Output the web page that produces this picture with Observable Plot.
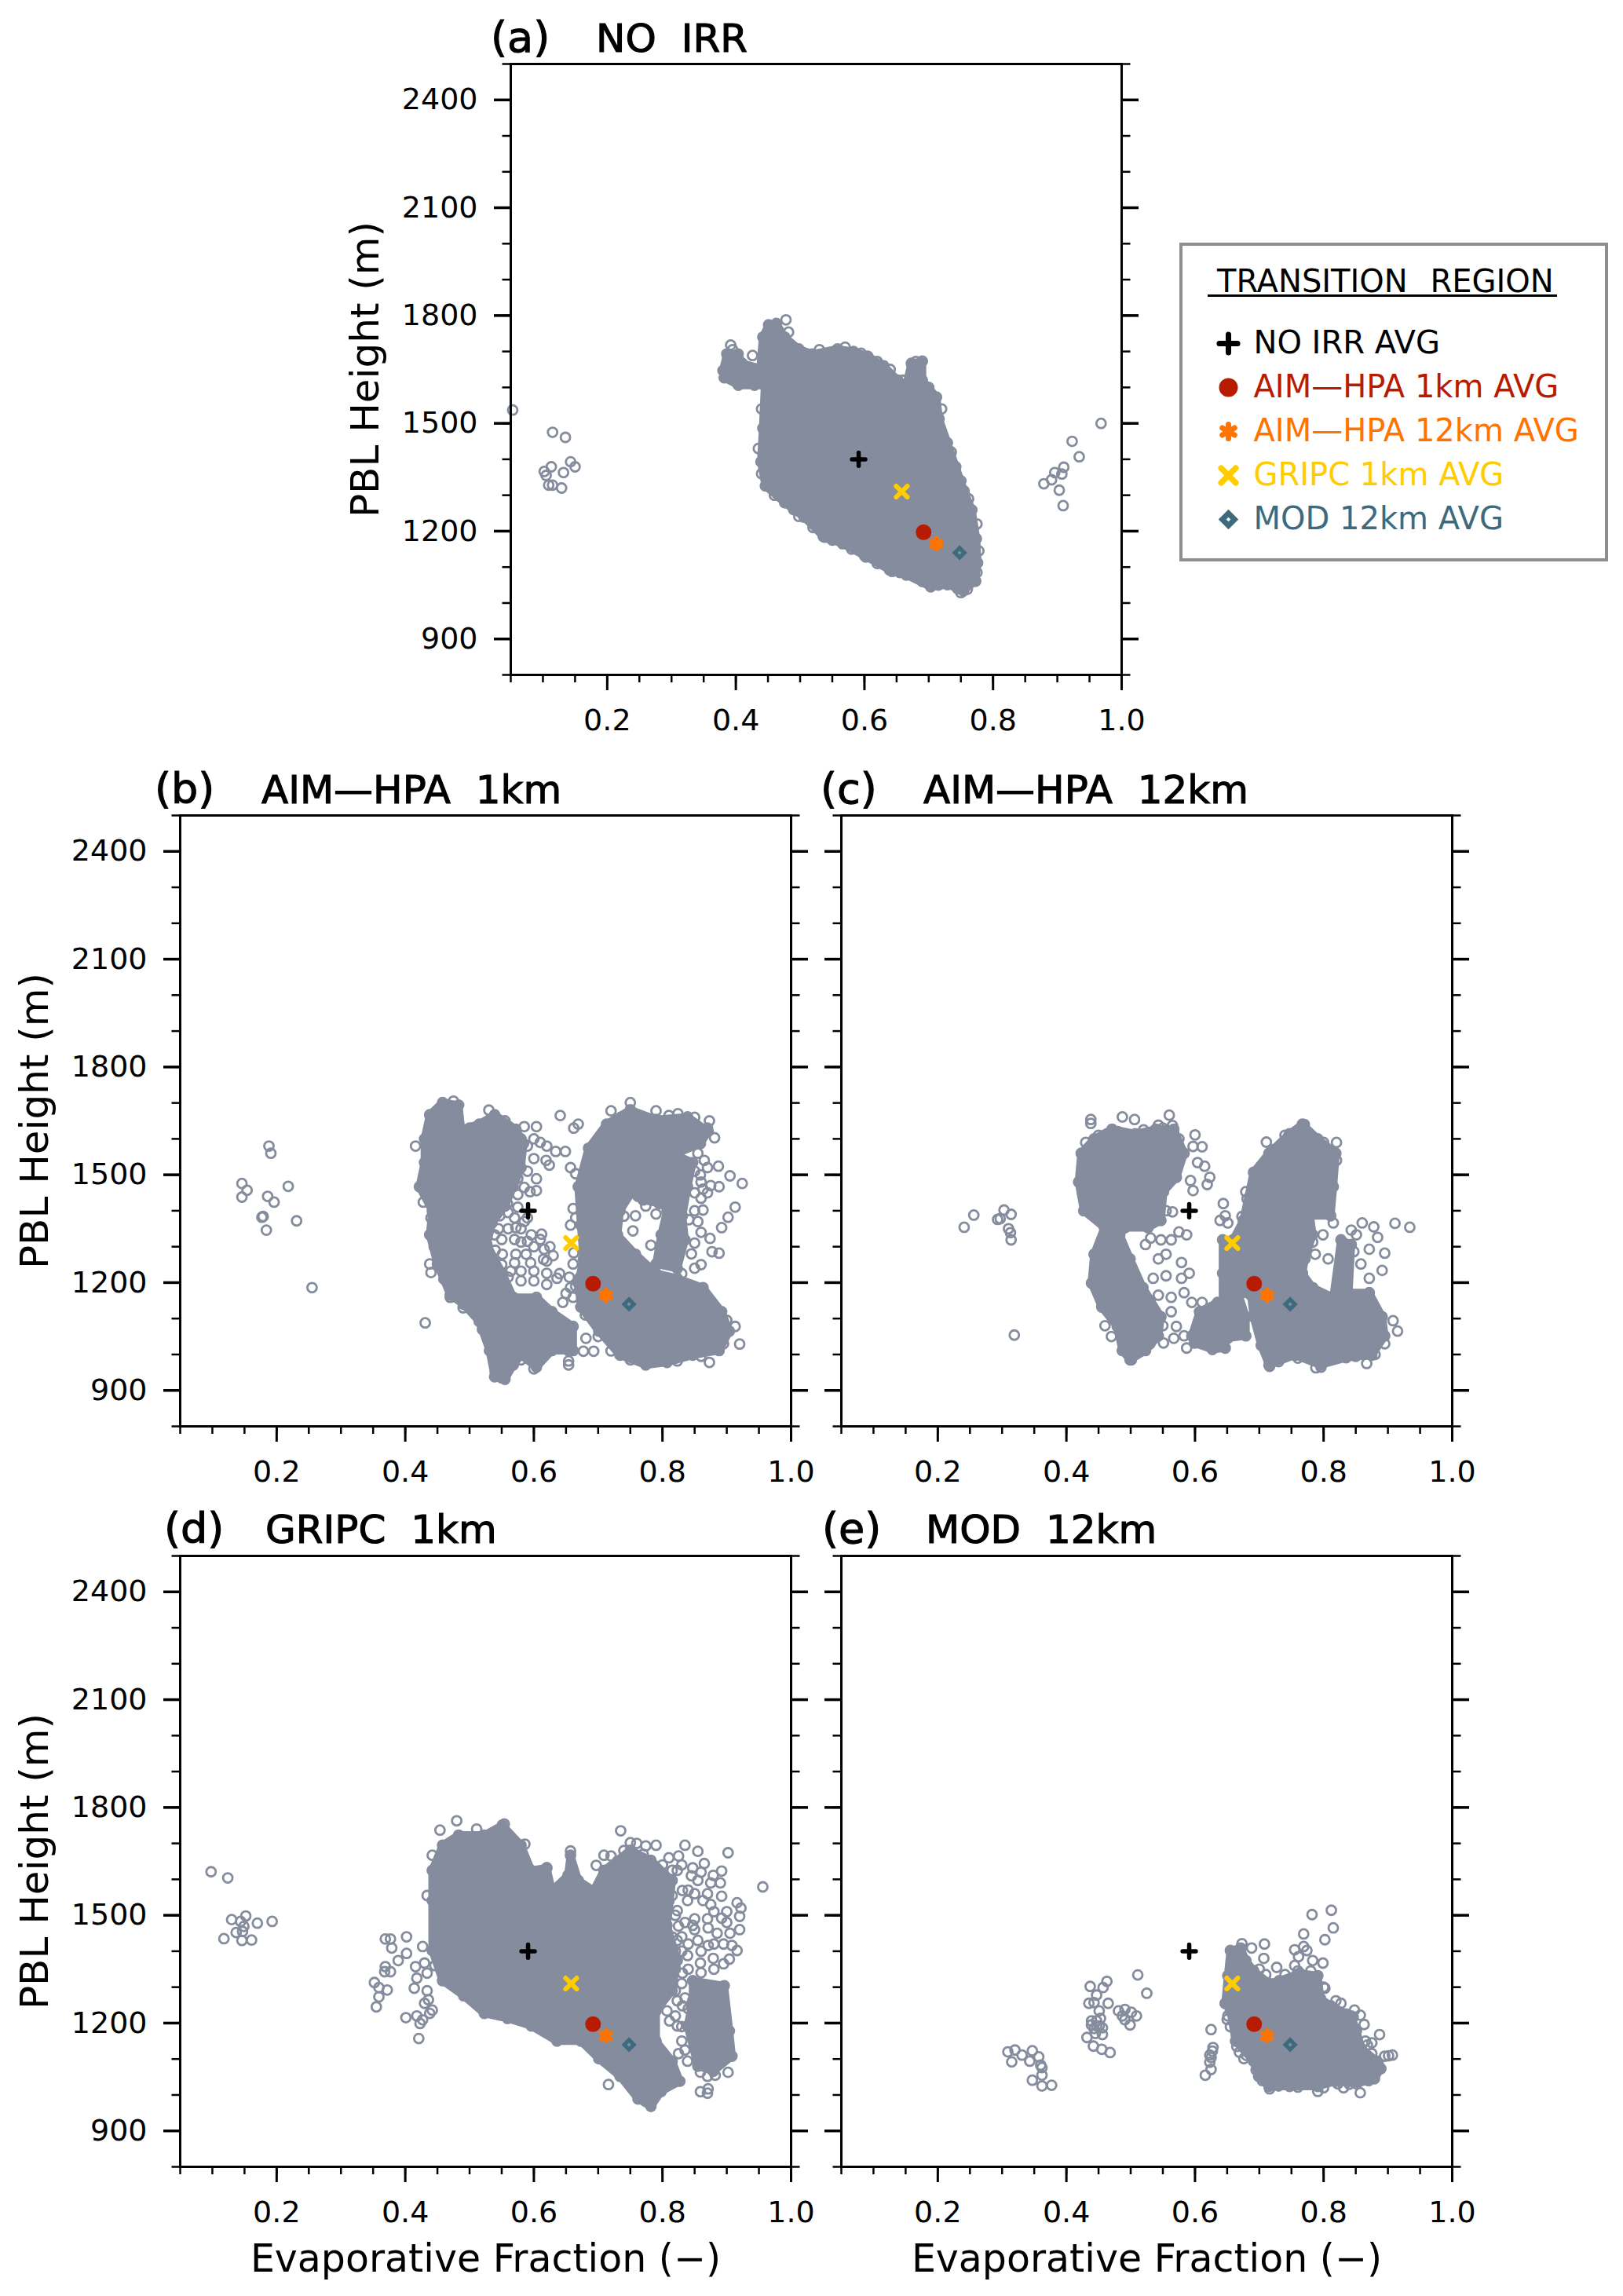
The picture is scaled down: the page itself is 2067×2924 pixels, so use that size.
<!DOCTYPE html>
<html><head><meta charset="utf-8">
<script src="https://cdn.jsdelivr.net/npm/d3@7"></script>
<script src="https://cdn.jsdelivr.net/npm/@observablehq/plot@0.6"></script>
<style>
html,body{margin:0;padding:0;background:#fff}
#page{position:relative;width:2067px;height:2924px;background:#fff;font-family:"DejaVu Sans",sans-serif;overflow:hidden}
.ttl{position:absolute;font-size:50px;line-height:1;white-space:nowrap;color:#000;-webkit-text-stroke:1.1px #000;word-spacing:16px}
.tag{font-size:54px;margin-top:-3px}
.lg{position:absolute;left:1502px;top:309px;width:546px;height:406px;box-sizing:border-box;border:4px solid #8e8e8e}
.lgt{position:absolute;left:1550px;top:338px;font-size:40px;line-height:1;word-spacing:16px;color:#000;white-space:nowrap}
.lgu{position:absolute;left:1538px;top:375px;width:445px;height:3px;background:#000}
</style></head><body><div id="page"></div>
<script>
const GRAY="#848c9d";
const xMajor=[0.2,0.4,0.6,0.8,1.0];
const xMinor=d3.range(1,21).map(i=>i*0.05);
const yMajor=[900,1200,1500,1800,2100,2400];
const yMinor=d3.range(8,26).map(i=>i*100);

// Averages, same in every panel
const avgLabels=["NO IRR AVG","AIM—HPA 1km AVG","AIM—HPA 12km AVG","GRIPC 1km AVG","MOD 12km AVG"];
const avgX=[0.591,0.692,0.712,0.658,0.748];
const avgY=[1400,1197,1165,1310,1140];
const avgColor=["#000000","#b71c02","#ff7300","#ffcc00","#3e6a7e"];
const avgSymbol=["plus","circle","asterisk","times","diamond2"];

// (a) NO IRR
const aBlobs=[[[.380,1647],[.386,1693],[.4035,1693],[.410,1667],[.438,1653],[.442,1740],[.451,1774],[.463,1778],[.476,1740],[.498,1707],[.519,1693],[.558,1707],[.583,1700],[.605,1687],[.630,1660],[.652,1620],[.665,1606],[.673,1667],[.690,1673],[.690,1620],[.712,1573],[.716,1513],[.729,1446],[.742,1379],[.755,1312],[.767,1259],[.774,1179],[.776,1112],[.772,1061],[.754,1034],[.729,1051],[.703,1045],[.665,1078],[.639,1092],[.600,1132],[.566,1165],[.536,1185],[.506,1239],[.476,1279],[.446,1326],[.439,1393],[.442,1486],[.445,1606],[.429,1606],[.404,1606],[.382,1627]]];
const aDots=[[.053,1537],[.115,1475],[.135,1461],[.143,1393],[.150,1379],[.113,1379],[.132,1363],[.102,1366],[.105,1355],[.109,1328],[.115,1328],[.129,1320],[.968,1500],[.923,1450],[.934,1407],[.910,1378],[.896,1363],[.907,1359],[.891,1343],[.879,1332],[.903,1314],[.909,1271],[.478,1788],[.482,1754],[.426,1689],[.392,1718],[.750,1029],[.760,1038],[.773,1061],[.602,1128],[.539,1183],[.498,1241],[.643,1088],
[.395,1705],[.415,1640],[.425,1650],[.445,1720],[.48,1715],[.53,1705],[.57,1712],[.595,1695],[.62,1672],[.64,1650],[.66,1620],[.68,1672],[.70,1600],[.72,1540],[.735,1420],[.75,1340],[.762,1290],[.775,1220],[.778,1145],[.775,1085],[.745,1040],[.715,1050],[.69,1060],[.655,1085],[.62,1110],[.58,1150],[.55,1175],[.52,1210],[.49,1260],[.46,1300],[.44,1360],[.435,1430],[.44,1540]];

// (b) AIM-HPA 1km
const bBlobs=[
[[.430,1600],[.438,1667],[.458,1701],[.483,1694],[.487,1627],[.515,1641],[.539,1667],[.572,1627],[.584,1587],[.580,1520],[.568,1467],[.555,1413],[.535,1366],[.527,1306],[.551,1226],[.568,1159],[.604,1159],[.628,1119],[.661,1078],[.661,1011],[.628,1011],[.604,965],[.580,998],[.568,971],[.555,931],[.539,938],[.531,1011],[.515,1092],[.491,1139],[.470,1165],[.450,1252],[.438,1333],[.442,1400],[.422,1467],[.430,1534]],
[[.669,1467],[.685,1574],[.713,1641],[.750,1681],[.790,1654],[.839,1661],[.871,1621],[.859,1587],[.823,1560],[.774,1560],[.750,1520],[.758,1467],[.734,1400],[.730,1333],[.758,1279],[.790,1226],[.823,1212],[.863,1186],[.892,1119],[.904,1065],[.888,1011],[.847,998],[.807,978],[.774,971],[.734,998],[.701,1065],[.673,1132],[.669,1199],[.677,1266],[.673,1360]],
[[.815,1560],[.847,1534],[.839,1467],[.831,1386],[.835,1319],[.823,1239],[.790,1252],[.798,1333],[.807,1400],[.794,1467]],
[[.745,1560],[.82,1560],[.815,1440],[.795,1420],[.77,1430],[.755,1450]]];
const bDots=[[.188,1580],[.191,1560],[.146,1476],[.154,1457],[.146,1438],[.186,1440],[.196,1424],[.218,1468],[.179,1384],[.177,1382],[.184,1346],[.231,1372],[.255,1186],[.431,1088],[.641,1665],[.416,1580],[.428,1424],[.438,1252],[.440,1228],[.470,1159],[.604,1634],[.585,1634],[.662,1630],[.669,1641],[.634,1565],[.649,1565],[.619,1540],[.624,1527],[.657,1520],[.665,1503],[.604,1489],[.594,1453],[.604,1456],[.661,1406],[.665,1380],[.657,1360],[.662,1283],[.661,1252],[.612,1335],[.596,1333],[.580,1313],[.572,1353],[.547,1386],[.559,1420],[.539,1333],[.551,1279],[.572,1279],[.588,1279],[.616,1293],[.600,1232],[.580,1232],[.564,1232],[.620,1226],[.636,1212],[.657,1186],[.661,1159],[.654,971],[.654,982],[.654,1011],[.677,1009],[.693,1009],[.681,1045],[.924,1476],[.905,1497],[.887,1524],[.888,1467],[.913,1410],[.902,1382],[.892,1353],[.874,1323],[.877,1286],[.888,1282],[.913,1078],[.920,1029],[.873,978],[.823,982],[.750,1701],[.720,1678],[.790,1678],[.824,1670],[.873,1650],[.881,1603],[.863,1402],[.863,1460],[.841,1375],[.859,1500],[.762,1440],[.774,1413],[.754,1344],[.782,1304],[.802,1331],[.758,1386],[.790,1391],[.770,1505],[.786,1478],[.807,1505],
[.74,1385],[.855,1560],[.865,1540],[.87,1520],[.85,1510],[.86,1480],[.875,1470],[.85,1450],[.86,1435],[.87,1450],[.85,1400],[.855,1370],[.86,1340],[.85,1310],[.845,1280],[.86,1250],[.85,1240],[.83,1225],
[.53,1400],[.545,1410],[.56,1395],[.57,1380],[.585,1370],[.58,1350],[.56,1350],[.545,1350],[.53,1350],[.55,1320],[.57,1320],[.59,1315],[.60,1300],[.61,1320],[.625,1300],[.63,1275],[.615,1265],[.595,1255],[.57,1255],[.55,1250],[.54,1290],[.545,1235],[.56,1215],[.58,1205],[.60,1205],[.62,1195],[.64,1225],[.655,1215],[.65,1170],[.645,1145],[.665,1190],[.672,1215],[.62,1260],[.59,1380],[.575,1410],[.555,1440],[.575,1445],[.585,1465],[.575,1490],[.59,1510],[.60,1545],[.61,1590],[.62,1580],[.60,1600],[.59,1580],
[.44,1640],[.465,1695],[.475,1705],[.50,1630],[.53,1680],[.555,1650],[.58,1600],[.43,1470],[.44,1380],[.445,1300],[.46,1210],[.49,1130],[.52,1070],[.54,950],[.55,935],[.58,985],[.60,960],[.72,1640],[.735,1660],[.76,1660],[.81,1665],[.85,1660],[.87,1630],[.90,1095],[.895,1030],[.86,995],[.82,990],[.78,985],[.75,985],[.72,1010],[.70,1050],[.68,1110]];

// (c) AIM-HPA 12km
const cBlobs=[
[[.419,1480],[.423,1560],[.443,1600],[.471,1627],[.507,1614],[.539,1627],[.567,1627],[.583,1560],[.571,1493],[.551,1453],[.547,1373],[.527,1353],[.491,1353],[.483,1333],[.499,1266],[.519,1186],[.547,1105],[.543,1052],[.523,1011],[.499,985],[.487,1011],[.479,1078],[.455,1132],[.439,1199],[.443,1279],[.459,1353],[.427,1400]],
[[.595,1052],[.607,1119],[.635,1145],[.647,1078],[.647,1018],[.627,1014],[.599,1032]],
[[.643,1319],[.659,1319],[.675,1373],[.691,1507],[.715,1560],[.747,1614],[.767,1641],[.791,1600],[.819,1560],[.815,1467],[.811,1386],[.779,1386],[.783,1333],[.771,1266],[.767,1226],[.783,1186],[.815,1159],[.827,1319],[.843,1306],[.839,1172],[.871,1172],[.891,1105],[.895,1052],[.875,998],[.835,991],[.795,971],[.755,998],[.715,971],[.703,1025],[.691,1105],[.687,1165],[.667,1172],[.679,1105],[.679,1052],[.651,1045],[.643,1145],[.643,1226]]];
const cDots=[[.241,1354],[.256,1388],[.293,1376],[.297,1378],[.303,1402],[.314,1390],[.310,1350],[.313,1339],[.314,1319],[.319,1054],[.438,1654],[.438,1643],[.487,1661],[.506,1654],[.560,1666],[.543,1638],[.565,1637],[.600,1611],[.597,1579],[.611,1578],[.604,1534],[.615,1524],[.623,1493],[.619,1473],[.593,1484],[.597,1456],[.565,1397],[.555,1400],[.644,1420],[.647,1386],[.639,1373],[.651,1366],[.673,1384],[.679,1453],[.681,1433],[.587,1333],[.575,1341],[.531,1324],[.523,1306],[.547,1319],[.563,1319],[.555,1279],[.543,1266],[.579,1256],[.535,1212],[.555,1219],[.543,1165],[.563,1159],[.563,1119],[.571,1078],[.567,1045],[.583,1052],[.587,1018],[.579,1212],[.591,1226],[.583,1172],[.595,1145],[.611,1145],[.551,1032],[.911,1365],[.934,1354],[.878,1355],[.884,1326],[.895,1282],[.891,1234],[.908,1094],[.915,1065],[.895,1030],[.867,975],[.796,965],[.788,963],[.716,967],[.501,985],[.820,1590],[.711,1591],[.745,1607],[.851,1333],[.843,1346],[.860,1366],[.871,1293],[.847,1286],[.858,1252],[.871,1212],[.807,1266],[.799,1333],[.815,1366],[.783,1313],[.787,1279],
[.43,1590],[.45,1610],[.48,1620],[.52,1625],[.55,1630],[.575,1600],[.425,1450],[.46,1080],[.47,1050],[.50,990],[.53,1030],[.55,1080],[.53,1150],[.72,1570],[.74,1610],[.77,1640],[.80,1590],[.82,1540],[.89,1060],[.88,1000],[.85,995],[.81,985],[.76,990],[.73,980]];

// (d) GRIPC 1km
const dBlobs=[
[[.442,1541],[.442,1625],[.458,1695],[.483,1723],[.523,1723],[.551,1751],[.580,1695],[.596,1625],[.620,1632],[.628,1569],[.653,1611],[.657,1667],[.669,1597],[.693,1569],[.709,1625],[.750,1681],[.782,1653],[.815,1597],[.807,1472],[.823,1374],[.815,1290],[.790,1234],[.790,1150],[.815,1094],[.827,1038],[.798,1010],[.782,968],[.762,989],[.734,1052],[.701,1101],[.673,1150],[.636,1150],[.596,1192],[.559,1213],[.523,1227],[.491,1276],[.458,1318],[.442,1402]],
[[.847,1318],[.896,1304],[.904,1178],[.908,1108],[.879,1066],[.855,1080],[.839,1192],[.847,1262]]];
const dDots=[[.098,1621],[.124,1604],[.130,1488],[.152,1498],[.144,1483],[.149,1469],[.137,1452],[.118,1435],[.146,1430],[.161,1431],[.170,1478],[.193,1483],[.147,1455],[.369,1434],[.377,1434],[.379,1409],[.402,1440],[.389,1374],[.402,1394],[.369,1357],[.368,1343],[.377,1343],[.372,1292],[.352,1313],[.359,1299],[.359,1273],[.355,1245],[.416,1357],[.418,1325],[.414,1297],[.436,1265],[.430,1255],[.442,1236],[.438,1227],[.418,1220],[.401,1215],[.427,1209],[.423,1199],[.421,1157],[.427,1413],[.430,1367],[.434,1339],[.434,1290],[.446,1360],[.956,1579],[.902,1674],[.892,1623],[.879,1611],[.835,1695],[.790,1695],[.735,1735],[.855,1678],[.865,1644],[.855,1597],[.892,1553],[.875,1530],[.916,1535],[.922,1520],[.920,1497],[.920,1460],[.892,1492],[.871,1465],[.855,1430],[.823,1513],[.839,1541],[.815,1555],[.908,1416],[.916,1402],[.904,1378],[.879,1380],[.859,1367],[.839,1388],[.831,1339],[.823,1430],[.863,1541],[.790,1632],[.823,1625],[.847,1632],[.807,1590],[.831,1569],[.847,1472],[.871,1416],[.859,1063],[.870,1052],[.882,1055],[.902,1063],[.859,1009],[.870,1005],[.871,1017],[.716,1029],[.839,1094],[.823,1192],[.811,1206],[.823,1262],[.807,1234],[.831,1248],[.480,1763],[.554,1754],[.511,1740],[.454,1737],[.586,1698],[.620,1632],[.657,1679],[.697,1639],[.709,1667],[.750,1702],[.774,1693],[.434,1555],[.442,1667],
[.83,1640],[.845,1610],[.86,1620],[.875,1590],[.89,1590],[.84,1570],[.85,1560],[.87,1560],[.88,1510],[.90,1510],[.90,1480],[.905,1450],[.885,1450],[.87,1490],[.85,1490],[.835,1480],[.825,1470],[.85,1460],[.88,1420],[.895,1420],[.86,1400],[.84,1420],[.83,1400],[.82,1350],[.84,1350],[.86,1340],[.88,1350],[.895,1365],[.83,1310],[.82,1290],[.835,1270],[.80,1640],[.81,1660],[.825,1665],[.77,1670],[.74,1680],[.72,1665],[.73,1650],[.76,1700],[.795,1610],[.815,1625],[.83,1190],[.83,1150],[.835,1125],[.825,1115],[.82,1220],[.84,1240],[.81,1540],[.82,1500],[.815,1440],[.83,1440],[.82,1400],[.81,1330]];

// (e) MOD 12km
const eBlobs=[[[.655,1402],[.671,1409],[.679,1374],[.691,1346],[.715,1311],[.731,1318],[.763,1339],[.791,1332],[.795,1269],[.811,1248],[.843,1220],[.851,1178],[.859,1129],[.883,1094],[.889,1073],[.879,1045],[.851,1031],[.819,1038],[.791,1024],[.747,1024],[.715,1024],[.699,1052],[.691,1094],[.663,1150],[.655,1234],[.647,1255],[.651,1332]]];
const eDots=[[.309,1120],[.320,1125],[.315,1092],[.331,1111],[.343,1094],[.347,1123],[.357,1106],[.360,1083],[.362,1076],[.362,1055],[.347,1041],[.362,1025],[.377,1027],[.437,1302],[.463,1316],[.457,1299],[.447,1278],[.443,1257],[.435,1255],[.465,1255],[.451,1234],[.439,1195],[.447,1206],[.451,1192],[.443,1185],[.453,1213],[.439,1206],[.447,1192],[.456,1187],[.456,1168],[.445,1171],[.432,1160],[.442,1136],[.455,1127],[.468,1118],[.481,1234],[.491,1238],[.501,1230],[.487,1220],[.491,1209],[.509,1220],[.499,1195],[.511,1334],[.525,1283],[.625,1182],[.628,1132],[.623,1111],[.627,1122],[.625,1104],[.623,1091],[.625,1071],[.616,1055],[.812,1514],[.782,1502],[.815,1465],[.769,1448],[.802,1432],[.708,1420],[.673,1421],[.688,1409],[.769,1413],[.755,1404],[.774,1402],[.761,1385],[.799,1367],[.783,1374],[.727,1355],[.755,1360],[.707,1380],[.802,1297],[.819,1262],[.827,1255],[.848,1236],[.857,1222],[.846,1217],[.863,1196],[.887,1168],[.875,1145],[.868,1139],[.895,1108],[.901,1109],[.907,1111],[.857,1006],[.831,1020],[.791,1010],[.716,1017],[.822,1031],[.647,1255],[.651,1220],[.669,1119],[.676,1101],
[.66,1380],[.665,1395],[.70,1350],[.71,1335],[.74,1335],[.76,1345],[.78,1345],[.80,1300],[.82,1235],[.835,1225],[.865,1150],[.875,1115],[.885,1085],[.87,1040],[.84,1030],[.80,1020],[.76,1022],[.73,1025],[.705,1040],[.695,1070],[.68,1110],[.665,1135],[.655,1190],[.65,1210]];

const panels=[
 {tag:"(a)",name:"NO IRR",blobs:aBlobs,dots:aDots,left:650,top:81,tagX:625,nameX:759,titleY:24,yTitle:true,xTitle:false},
 {tag:"(b)",name:"AIM—HPA 1km",blobs:bBlobs,dots:bDots,left:229,top:1038,tagX:197,nameX:333,titleY:981,yTitle:true,xTitle:false},
 {tag:"(c)",name:"AIM—HPA 12km",blobs:cBlobs,dots:cDots,left:1071,top:1038,tagX:1045,nameX:1176,titleY:981,yTitle:false,xTitle:false},
 {tag:"(d)",name:"GRIPC 1km",blobs:dBlobs,dots:dDots,left:229,top:1981,tagX:209,nameX:338,titleY:1923,yTitle:true,xTitle:true},
 {tag:"(e)",name:"MOD 12km",blobs:eBlobs,dots:eDots,left:1071,top:1981,tagX:1047,nameX:1179,titleY:1923,yTitle:false,xTitle:true}
];

const page=document.getElementById("page");
const SZ=778, ML=225, MR=50, MT=12, MB=150;
const X=d=>d[0], Y=d=>d[1];
const avgRows=avgLabels.map((l,i)=>({l,x:avgX[i],y:avgY[i],c:avgColor[i],s:avgSymbol[i]}));
const panelR={plus:5.5,circle:10,asterisk:6.5,times:6.5,diamond2:5.5};
const legendR={plus:7.5,circle:12,asterisk:8.5,times:8.5,diamond2:7};
const panelW={plus:5.5,circle:0,asterisk:6,times:6,diamond2:5};
const legendW={plus:7,circle:0,asterisk:7,times:7.5,diamond2:7};

function avgMarks(){
 return avgRows.map(r=>Plot.dot([r],{x:"x",y:"y",symbol:()=>r.s,r:panelR[r.s],
    fill:r.s==="circle"?r.c:"none",stroke:r.c,strokeWidth:panelW[r.s],strokeLinecap:"round"}));
}

panels.forEach(p=>{
 const marks=[];
 p.blobs.forEach(b=>{
  marks.push(Plot.line(b,{x:X,y:Y,curve:"linear-closed",fill:GRAY,stroke:GRAY,strokeWidth:10,strokeLinejoin:"round"}));
  marks.push(Plot.dot(b,{x:X,y:Y,r:6,stroke:GRAY,strokeWidth:2.8,fill:"none"}));
 });
 marks.push(Plot.dot(p.dots,{x:X,y:Y,r:6,stroke:GRAY,strokeWidth:2.8,fill:"none"}));
 marks.push(...avgMarks());
 marks.push(Plot.frame({stroke:"#000",strokeWidth:3}));
 marks.push(Plot.axisX({anchor:"bottom",ticks:xMinor,tickSize:10,strokeWidth:2.5,text:null,label:null}));
 marks.push(Plot.axisX({anchor:"bottom",ticks:xMajor,tickSize:20,strokeWidth:3,tickPadding:24,tickFormat:d3.format(".1f"),label:null,fontSize:38}));
 marks.push(Plot.axisY({anchor:"left",ticks:yMinor,tickSize:10.5,strokeWidth:2.5,text:null,label:null}));
 marks.push(Plot.axisY({anchor:"right",ticks:yMinor,tickSize:10.5,strokeWidth:2.5,text:null,label:null}));
 if(p.yTitle) marks.push(Plot.axisY({anchor:"left",ticks:yMajor,tickSize:21,strokeWidth:3.5,tickPadding:21,tickFormat:d=>String(d),label:null,fontSize:38}));
 else marks.push(Plot.axisY({anchor:"left",ticks:yMajor,tickSize:21,strokeWidth:3.5,text:null,label:null}));
 marks.push(Plot.axisY({anchor:"right",ticks:yMajor,tickSize:21,strokeWidth:3.5,text:null,label:null}));
 if(p.yTitle) marks.push(Plot.text(["PBL Height (m)"],{x:()=>-0.1747,y:()=>1650,rotate:-90,fontSize:50,text:d=>d,fill:"#000",style:"word-spacing:28px"}));
 if(p.xTitle) marks.push(Plot.text(["Evaporative Fraction (−)"],{frameAnchor:"bottom",dy:133,fontSize:49,text:d=>d,fill:"#000",style:"word-spacing:21px"}));
 const svg=Plot.plot({
  width:SZ+ML+MR,height:SZ+MT+MB,marginLeft:ML,marginRight:MR,marginTop:MT,marginBottom:MB,
  style:{fontFamily:'"DejaVu Sans",sans-serif',background:"transparent",overflow:"visible",color:"#000"},
  x:{domain:[0.05,1.0],axis:null},y:{domain:[800,2500],axis:null},marks
 });
 svg.style.position="absolute";
 svg.style.left=(p.left-ML)+"px";
 svg.style.top=(p.top-MT)+"px";
 page.appendChild(svg);
 for(const [txt,tx,cls] of [[p.tag,p.tagX,"ttl tag"],[p.name,p.nameX,"ttl"]]){
  const t=document.createElement("div");
  t.className=cls;t.textContent=txt;t.style.left=tx+"px";t.style.top=p.titleY+"px";
  page.appendChild(t);
 }
});

// Legend
const box=document.createElement("div");box.className="lg";page.appendChild(box);
const lt=document.createElement("div");lt.className="lgt";lt.textContent="TRANSITION REGION";page.appendChild(lt);
const lu=document.createElement("div");lu.className="lgu";page.appendChild(lu);
const lgSvg=Plot.plot({
 width:530,height:300,marginLeft:0,marginRight:0,marginTop:36,marginBottom:38,
 style:{fontFamily:'"DejaVu Sans",sans-serif',background:"transparent",overflow:"visible"},
 x:{axis:null},y:{type:"point",domain:avgLabels,padding:0,axis:null},
 marks:[
  ...avgRows.map(r=>Plot.dot([r],{frameAnchor:"left",dx:54,y:"l",symbol:()=>r.s,r:legendR[r.s],
    fill:r.s==="circle"?r.c:"none",stroke:r.c,strokeWidth:legendW[r.s],strokeLinecap:"round"})),
  Plot.text(avgRows,{frameAnchor:"left",dx:86,y:"l",text:"l",fill:"c",fontSize:40,textAnchor:"start",style:"word-spacing:13px"})
 ]
});
lgSvg.style.position="absolute";lgSvg.style.left="1510px";lgSvg.style.top="400px";
page.appendChild(lgSvg);
</script></body></html>
